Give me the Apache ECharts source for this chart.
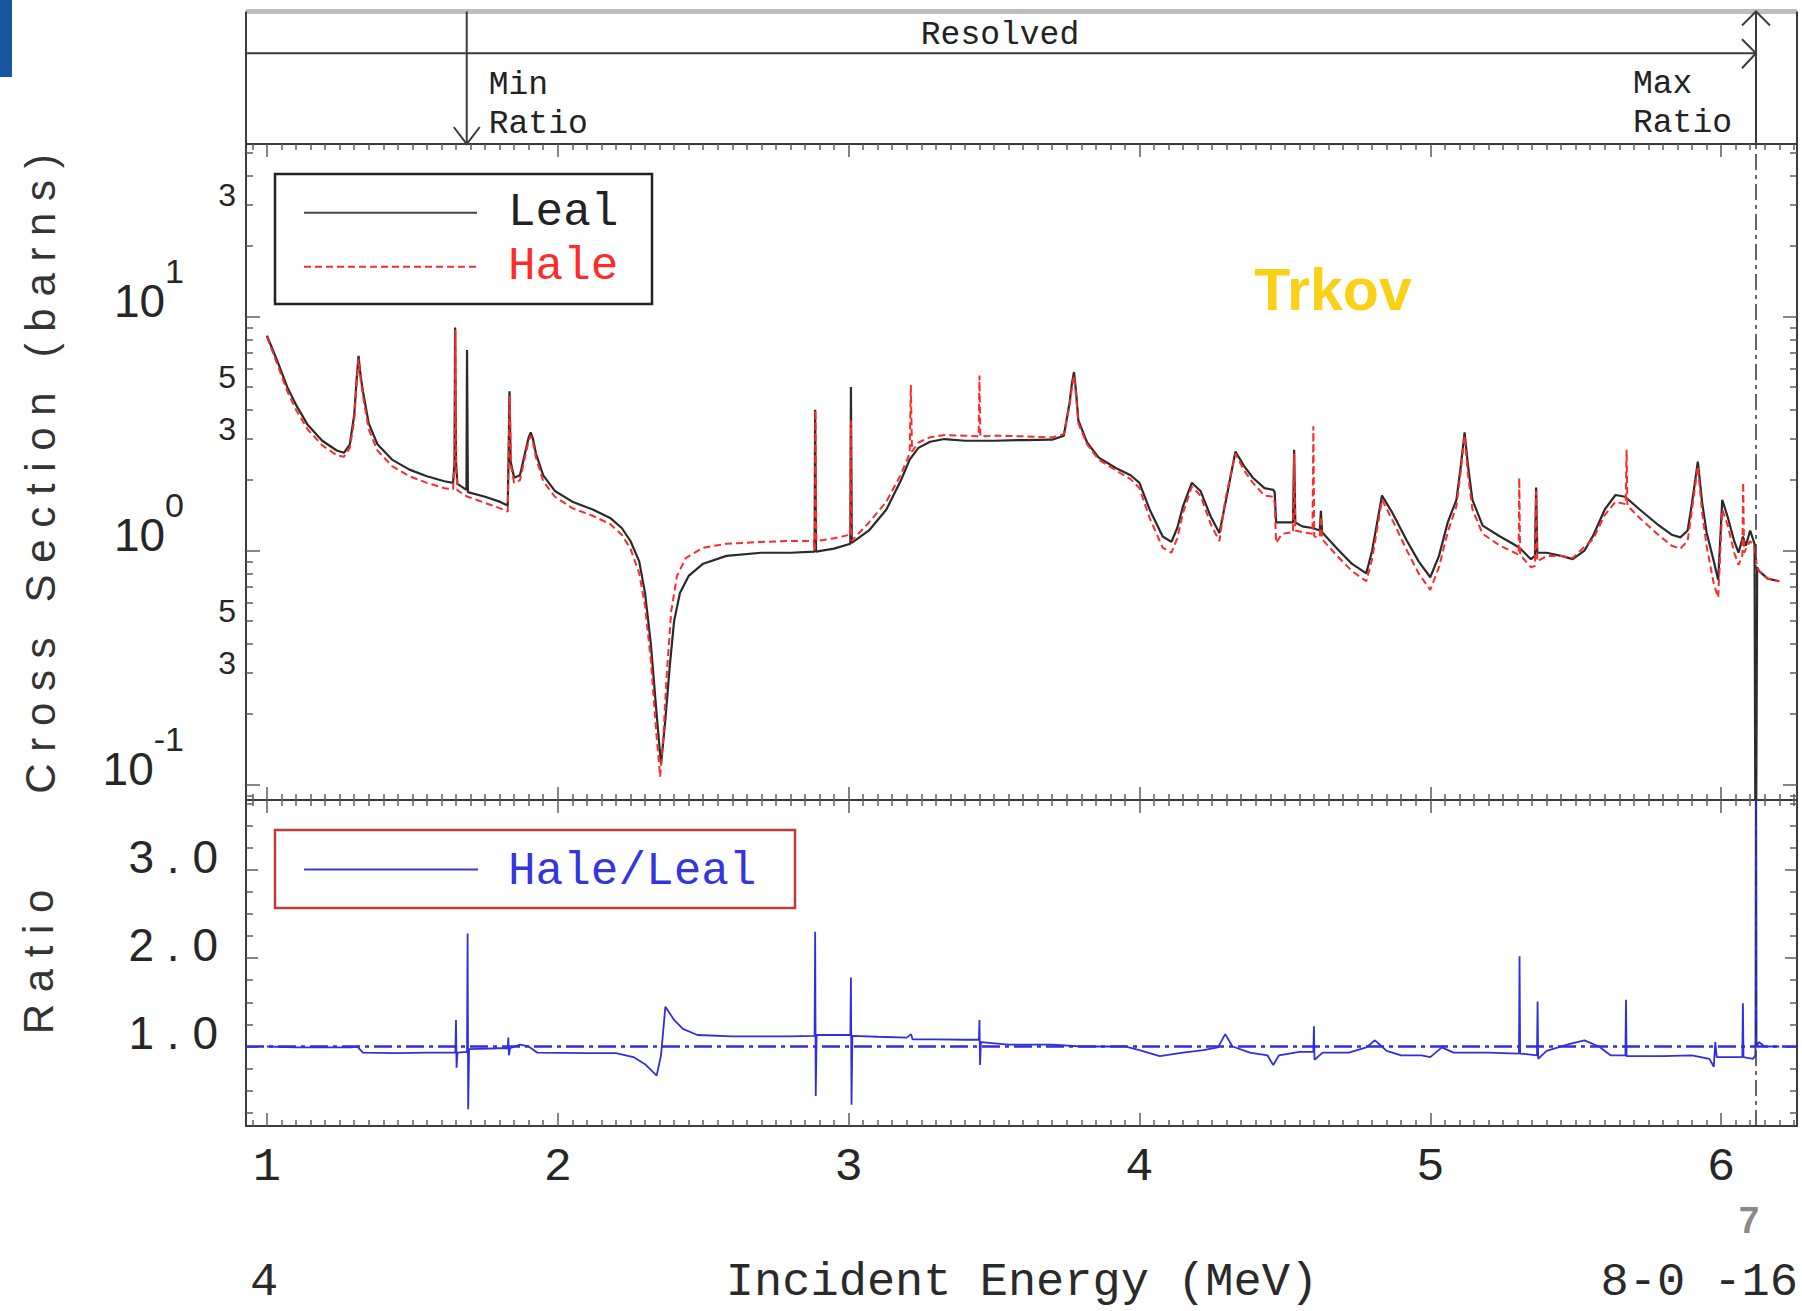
<!DOCTYPE html>
<html>
<head>
<meta charset="utf-8">
<script src="https://cdn.jsdelivr.net/npm/echarts@6/dist/echarts.min.js"></script>
<style>
html,body{margin:0;padding:0;background:#fff;}
#c{width:1802px;height:1311px;}
</style>
</head>
<body>
<div id="c"></div>
<script>
// ---------------- data ----------------
const X_TICK_LABELS = [1, 2, 3, 4, 5, 6];
const Y_TICK_LABELS = [0.1, 0.3, 0.5, 1, 3, 5, 10, 30];
const Y_MAJOR_TICKS = [0.1, 1, 10];
const RATIO_TICK_LABELS = [1, 2, 3];
const MIN_RATIO_E = 1.687;
const MAX_RATIO_E = 6.12;

const lealData = [
[1.000,8.3],[1.035,6.5],[1.07,5.0],[1.10,4.2],[1.14,3.45],[1.19,2.95],[1.24,2.68],[1.265,2.62],[1.285,2.85],[1.30,3.8],[1.308,5.3],[1.315,6.8],[1.322,5.6],[1.33,4.8],[1.35,3.5],[1.38,2.85],[1.43,2.45],[1.49,2.22],[1.55,2.08],[1.61,1.98],[1.640,1.95],[1.645,2.4],[1.647,9.0],[1.650,2.4],[1.655,1.93],[1.686,1.82],[1.688,7.2],[1.691,1.78],[1.75,1.7],[1.80,1.62],[1.828,1.56],[1.831,2.6],[1.834,4.8],[1.838,2.4],[1.85,2.05],[1.87,2.1],[1.89,2.7],[1.900,3.05],[1.907,3.2],[1.915,3.0],[1.925,2.6],[1.95,2.1],[1.99,1.8],[2.05,1.62],[2.12,1.5],[2.18,1.38],[2.22,1.25],[2.25,1.1],[2.28,0.9],[2.30,0.66],[2.32,0.4],[2.34,0.2],[2.355,0.122],[2.37,0.19],[2.385,0.32],[2.40,0.5],[2.42,0.66],[2.45,0.78],[2.50,0.88],[2.58,0.95],[2.70,0.98],[2.80,0.98],[2.883,0.99],[2.885,4.0],[2.888,0.99],[2.95,1.02],[3.006,1.07],[3.008,5.0],[3.011,1.08],[3.07,1.22],[3.13,1.5],[3.18,2.0],[3.21,2.45],[3.24,2.75],[3.28,2.92],[3.33,3.0],[3.40,2.95],[3.50,2.95],[3.60,2.97],[3.70,2.98],[3.74,3.1],[3.76,4.3],[3.768,5.2],[3.775,5.8],[3.782,4.8],[3.79,3.6],[3.82,2.9],[3.86,2.5],[3.92,2.25],[3.97,2.1],[4.00,1.95],[4.035,1.5],[4.08,1.15],[4.11,1.09],[4.13,1.25],[4.15,1.55],[4.18,1.95],[4.21,1.8],[4.245,1.4],[4.275,1.19],[4.30,1.7],[4.33,2.65],[4.36,2.3],[4.39,2.05],[4.43,1.85],[4.46,1.82],[4.465,1.78],[4.47,1.32],[4.50,1.32],[4.528,1.32],[4.532,2.7],[4.536,1.32],[4.56,1.27],[4.595,1.25],[4.62,1.22],[4.624,1.48],[4.628,1.2],[4.68,1.02],[4.73,0.88],[4.78,0.80],[4.80,1.0],[4.834,1.72],[4.87,1.45],[4.92,1.1],[4.96,0.9],[5.00,0.77],[5.03,0.95],[5.06,1.32],[5.09,1.65],[5.105,2.3],[5.118,3.2],[5.13,2.3],[5.145,1.65],[5.18,1.28],[5.24,1.15],[5.29,1.06],[5.31,1.02],[5.346,0.92],[5.360,0.95],[5.364,1.86],[5.368,0.98],[5.40,0.98],[5.45,0.95],[5.49,0.92],[5.53,1.0],[5.56,1.16],[5.60,1.5],[5.637,1.73],[5.67,1.70],[5.72,1.5],[5.78,1.3],[5.83,1.17],[5.86,1.14],[5.885,1.22],[5.90,1.6],[5.92,2.4],[5.935,1.6],[5.95,1.2],[5.975,0.9],[5.99,0.75],[6.004,1.65],[6.023,1.39],[6.045,1.1],[6.06,0.98],[6.075,1.15],[6.085,1.05],[6.10,1.22],[6.115,1.07],[6.119,0.02],[6.124,0.85],[6.13,0.82],[6.16,0.76],[6.20,0.74]
];

const haleData = [
[1.000,8.2],[1.035,6.3],[1.07,4.8],[1.10,4.0],[1.14,3.3],[1.19,2.82],[1.24,2.56],[1.265,2.52],[1.285,2.75],[1.30,3.6],[1.308,5.1],[1.315,6.6],[1.322,5.4],[1.33,4.6],[1.35,3.3],[1.38,2.68],[1.43,2.3],[1.49,2.08],[1.55,1.95],[1.61,1.85],[1.640,1.83],[1.645,2.3],[1.648,8.8],[1.651,2.3],[1.655,1.81],[1.686,1.71],[1.691,1.70],[1.75,1.6],[1.80,1.52],[1.828,1.47],[1.831,2.5],[1.835,4.6],[1.839,2.3],[1.85,1.95],[1.87,2.0],[1.89,2.6],[1.900,2.95],[1.907,3.1],[1.915,2.9],[1.925,2.5],[1.95,1.98],[1.99,1.7],[2.05,1.52],[2.12,1.41],[2.18,1.3],[2.22,1.17],[2.25,1.02],[2.28,0.8],[2.30,0.58],[2.32,0.34],[2.34,0.16],[2.352,0.108],[2.363,0.16],[2.375,0.3],[2.39,0.55],[2.41,0.78],[2.44,0.93],[2.50,1.03],[2.58,1.07],[2.70,1.09],[2.80,1.1],[2.880,1.1],[2.884,1.0],[2.886,4.0],[2.889,1.1],[2.95,1.13],[3.005,1.17],[3.008,3.6],[3.010,1.1],[3.07,1.32],[3.13,1.62],[3.18,2.12],[3.21,2.6],[3.214,5.1],[3.218,2.65],[3.24,2.9],[3.28,3.05],[3.33,3.12],[3.40,3.1],[3.447,3.08],[3.450,5.6],[3.453,3.08],[3.50,3.1],[3.60,3.08],[3.70,3.05],[3.74,3.15],[3.76,4.2],[3.768,5.0],[3.775,5.6],[3.782,4.6],[3.79,3.5],[3.82,2.85],[3.86,2.45],[3.92,2.2],[3.97,2.02],[4.00,1.85],[4.035,1.38],[4.08,1.03],[4.11,0.98],[4.13,1.13],[4.15,1.45],[4.18,1.88],[4.21,1.72],[4.245,1.3],[4.275,1.1],[4.295,1.65],[4.33,2.6],[4.36,2.2],[4.39,1.95],[4.43,1.72],[4.46,1.7],[4.465,1.6],[4.47,1.08],[4.49,1.18],[4.528,1.2],[4.532,2.6],[4.536,1.22],[4.56,1.2],[4.595,1.18],[4.598,3.4],[4.601,1.15],[4.62,1.14],[4.624,1.4],[4.628,1.12],[4.68,0.95],[4.73,0.82],[4.78,0.74],[4.80,0.92],[4.834,1.65],[4.87,1.35],[4.92,1.0],[4.96,0.8],[5.00,0.68],[5.03,0.85],[5.06,1.2],[5.09,1.55],[5.105,2.2],[5.118,3.1],[5.13,2.1],[5.145,1.5],[5.18,1.18],[5.24,1.05],[5.29,0.98],[5.304,0.96],[5.306,2.05],[5.309,0.96],[5.346,0.85],[5.360,0.86],[5.364,1.8],[5.368,0.9],[5.40,0.95],[5.45,0.95],[5.49,0.93],[5.53,1.04],[5.56,1.12],[5.60,1.42],[5.637,1.62],[5.672,1.58],[5.675,2.7],[5.678,1.56],[5.72,1.38],[5.78,1.18],[5.83,1.05],[5.86,1.02],[5.885,1.1],[5.90,1.5],[5.92,2.3],[5.935,1.45],[5.95,1.05],[5.975,0.72],[5.99,0.63],[6.004,1.5],[6.023,1.28],[6.045,0.98],[6.06,0.87],[6.073,0.95],[6.076,1.96],[6.079,0.98],[6.10,1.1],[6.115,1.03],[6.124,0.85],[6.13,0.82],[6.16,0.76],[6.20,0.74]
];

const ratioData = [
[1.00,1.0],[1.10,0.99],[1.20,0.99],[1.29,0.99],[1.31,1.0],[1.33,0.93],[1.45,0.925],[1.55,0.93],[1.648,0.93],[1.650,1.3],[1.652,0.76],[1.655,0.93],[1.688,0.94],[1.690,2.28],[1.692,0.29],[1.695,0.97],[1.80,0.98],[1.828,0.98],[1.830,1.1],[1.832,0.9],[1.836,0.98],[1.87,1.02],[1.90,1.0],[1.93,0.93],[2.10,0.925],[2.20,0.925],[2.26,0.88],[2.30,0.8],[2.34,0.67],[2.355,0.9],[2.37,1.45],[2.40,1.3],[2.43,1.2],[2.48,1.13],[2.60,1.115],[2.80,1.115],[2.883,1.12],[2.885,2.3],[2.887,0.44],[2.890,1.13],[3.00,1.13],[3.006,1.13],[3.008,1.78],[3.010,0.34],[3.013,1.12],[3.10,1.11],[3.20,1.1],[3.215,1.14],[3.22,1.08],[3.30,1.08],[3.40,1.076],[3.448,1.076],[3.450,1.3],[3.452,0.79],[3.455,1.05],[3.55,1.02],[3.70,1.02],[3.80,1.0],[3.95,1.0],[4.00,0.96],[4.07,0.89],[4.15,0.93],[4.22,0.96],[4.27,0.99],[4.295,1.14],[4.32,1.0],[4.38,0.93],[4.44,0.9],[4.46,0.79],[4.48,0.9],[4.55,0.94],[4.598,0.94],[4.600,1.23],[4.602,0.85],[4.63,0.93],[4.72,0.93],[4.78,0.99],[4.81,1.07],[4.85,0.95],[4.90,0.9],[4.97,0.9],[5.00,0.88],[5.04,0.99],[5.08,0.93],[5.20,0.93],[5.305,0.92],[5.307,2.02],[5.309,0.92],[5.367,0.9],[5.369,1.51],[5.371,0.86],[5.40,0.95],[5.48,1.03],[5.53,1.07],[5.58,1.0],[5.62,0.9],[5.671,0.9],[5.673,1.53],[5.675,0.89],[5.80,0.89],[5.90,0.9],[5.96,0.86],[5.975,0.77],[5.98,1.05],[5.985,0.88],[6.04,0.88],[6.073,0.88],[6.075,1.49],[6.077,0.88],[6.11,0.86],[6.118,0.9],[6.120,6.0],[6.122,1.0],[6.13,1.05],[6.15,1.0],[6.20,1.0]
];

// ---------------- layout ----------------
const X_MIN = 0.928, X_MAX = 6.261;
const Y_MIN = 0.086, Y_MAX = 54.7;
const R_MIN = 0.1, R_MAX = 3.79;
const G_LEFT = 246, G_RIGHT = 5, MAIN_TOP = 144, MAIN_H = 656, RATIO_H = 326;

// minor tick positions
const X_MINOR = [];
for (let i = 19; i <= 125; i++) { if (i % 20 !== 0) X_MINOR.push(+(i * 0.05).toFixed(2)); }
const Y_MINOR = [0.09];
[0.1, 1, 10].forEach(d => { for (let k = 2; k <= 9; k++) { const v = +(k * d).toPrecision(3); if (v <= Y_MAX) Y_MINOR.push(v); } });
const R_MINOR = [];
for (let i = 1; i <= 15; i++) { if (i % 4 !== 0) R_MINOR.push(i * 0.25); }

const AXC = '#3b3b3b', TKC = '#5c5c5c';
const MONO = '"Liberation Mono", "DejaVu Sans Mono", monospace';
const SANS = '"Liberation Sans", Arial, sans-serif';

function xAx(grid, pos, major, label) {
  return {
    gridIndex: grid, type: 'value', position: pos, min: X_MIN, max: X_MAX,
    axisLine: { show: major, onZero: false, lineStyle: { color: AXC, width: 2 } },
    axisTick: { show: true, inside: true, length: major ? 13 : 6,
      customValues: major ? X_TICK_LABELS : X_MINOR, lineStyle: { color: TKC, width: 1.5 } },
    axisLabel: label ? { show: true, customValues: X_TICK_LABELS, margin: 41, verticalAlign: 'middle',
      fontFamily: MONO, fontSize: 47, color: '#262626' } : { show: false },
    splitLine: { show: false }
  };
}
function yAx(grid, pos, major, isLog, label) {
  const base = {
    gridIndex: grid, position: pos,
    axisLine: { show: major, onZero: false, lineStyle: { color: AXC, width: 2 } },
    axisTick: { show: true, inside: true, length: major ? 14 : 7, lineStyle: { color: TKC, width: 1.5 } },
    splitLine: { show: false },
    axisLabel: { show: false }
  };
  if (isLog) {
    base.type = 'log'; base.logBase = 10; base.min = Y_MIN; base.max = Y_MAX;
    base.axisTick.customValues = major ? Y_MAJOR_TICKS : Y_MINOR;
    if (label) {
      base.axisLabel = {
        show: true, customValues: Y_TICK_LABELS, margin: 10, color: '#262626',
        formatter: function (v) {
          const lg = Math.log10(v), e = Math.round(lg);
          if (Math.abs(lg - e) < 1e-6) return '{b|10}{s|' + (e < 0 ? '-' : '') + Math.abs(e) + '}';
          const d = Math.round(v / Math.pow(10, Math.floor(lg + 1e-9)));
          return '{m|' + d + '}';
        },
        rich: {
          b: { fontFamily: SANS, fontSize: 46, color: '#262626', padding: [24, 0, 56, 0] },
          s: { fontFamily: SANS, fontSize: 34, color: '#262626', verticalAlign: 'top', padding: [0, 52, 0, 0] },
          m: { fontFamily: SANS, fontSize: 32, color: '#262626', padding: [0, 0, 20, 0] }
        }
      };
    }
  } else {
    base.type = 'value'; base.min = R_MIN; base.max = R_MAX;
    base.axisTick.customValues = major ? RATIO_TICK_LABELS : R_MINOR;
    base.axisTick.length = major ? 12 : 7;
    if (label) {
      base.axisLabel = {
        show: true, customValues: RATIO_TICK_LABELS, margin: 28, color: '#262626',
        formatter: v => '{r|' + v.toFixed(1).split('').join('\u00A0') + '}',
        rich: { r: { fontFamily: SANS, fontSize: 46, color: '#262626', padding: [0, 0, 26, 0] } }
      };
    }
  }
  return base;
}

const chart = echarts.init(document.getElementById('c'), null, { renderer: 'svg', width: 1802, height: 1311 });

const option = {
  animation: false,
  backgroundColor: '#ffffff',
  grid: [
    { left: G_LEFT, right: G_RIGHT, top: MAIN_TOP, height: MAIN_H, containLabel: false },
    { left: G_LEFT, right: G_RIGHT, top: MAIN_TOP + MAIN_H, height: RATIO_H, containLabel: false }
  ],
  xAxis: [
    xAx(0, 'bottom', true, false), xAx(0, 'bottom', false, false), xAx(0, 'top', true, false), xAx(0, 'top', false, false),
    xAx(1, 'bottom', true, true), xAx(1, 'bottom', false, false), xAx(1, 'top', true, false), xAx(1, 'top', false, false)
  ],
  yAxis: [
    yAx(0, 'left', true, true, true), yAx(0, 'left', false, true, false), yAx(0, 'right', true, true, false), yAx(0, 'right', false, true, false),
    yAx(1, 'left', true, false, true), yAx(1, 'left', false, false, false), yAx(1, 'right', true, false, false), yAx(1, 'right', false, false, false)
  ],
  series: [
    {
      name: 'Leal', type: 'line', xAxisIndex: 0, yAxisIndex: 0, data: lealData,
      symbol: 'none', showSymbol: false, clip: true, z: 3,
      lineStyle: { color: '#2a2a2a', width: 2.2 },
      markLine: {
        silent: true, symbol: ['none', 'none'], label: { show: false },
        lineStyle: { color: '#333333', width: 1.5, type: [16, 5, 4, 5] },
        data: [{ xAxis: MAX_RATIO_E }]
      }
    },
    {
      name: 'Hale', type: 'line', xAxisIndex: 0, yAxisIndex: 0, data: haleData,
      symbol: 'none', showSymbol: false, clip: true, z: 4,
      lineStyle: { color: '#ff2a2a', width: 2, type: [7, 4] }
    },
    {
      name: 'Hale/Leal', type: 'line', xAxisIndex: 4, yAxisIndex: 4, data: ratioData,
      symbol: 'none', showSymbol: false, clip: true, z: 4,
      lineStyle: { color: '#2f2fe0', width: 1.8 },
      markLine: {
        silent: true, symbol: ['none', 'none'], label: { show: false },
        data: [
          { xAxis: MAX_RATIO_E, lineStyle: { color: '#333333', width: 1.5, type: [16, 5, 4, 5] } },
          { yAxis: 1, lineStyle: { color: '#2f2fe0', width: 2.6, type: [18, 5, 4, 5] } }
        ]
      }
    }
  ]
};
chart.setOption(option);

// ---------------- decorations / annotations ----------------
const xMinR = chart.convertToPixel({ xAxisIndex: 0 }, MIN_RATIO_E);
const xMaxR = chart.convertToPixel({ xAxisIndex: 0 }, MAX_RATIO_E);
const xL = G_LEFT, xR = 1802 - G_RIGHT, yTop = 11.5, yRes = 53.3, yPlot = MAIN_TOP;

function ln(x1, y1, x2, y2, stroke, w) {
  return { type: 'line', silent: true, shape: { x1, y1, x2, y2 }, style: { stroke, lineWidth: w } };
}
function pl(points, stroke, w) {
  return { type: 'polyline', silent: true, shape: { points }, style: { stroke, lineWidth: w, fill: null } };
}
function tx(x, y, text, font, fill, align, rot) {
  return { type: 'text', silent: true, x, y, rotation: rot || 0,
    style: { text, font, fill, align: align || 'left', verticalAlign: 'middle', textAlign: align || 'left', textVerticalAlign: 'middle' } };
}
const NB = '\u00A0';
const spaced = s => s.split(' ').map(w => w.split('').join(NB)).join(NB + NB + NB);

chart.setOption({
  graphic: [
    { type: 'rect', silent: true, shape: { x: 0, y: 0, width: 12, height: 77 }, style: { fill: '#15569f' } },
    ln(xL, yTop, xR, yTop, '#bdbdbd', 5),
    ln(xL, yTop, xL, yPlot, AXC, 2),
    ln(xR, yTop, xR, yPlot, AXC, 2),
    ln(xL, yRes, xMaxR, yRes, AXC, 2),
    pl([[xMaxR - 14, yRes - 14], [xMaxR, yRes], [xMaxR - 14, yRes + 15]], AXC, 2),
    ln(xMaxR, yTop, xMaxR, yPlot, AXC, 2),
    pl([[xMaxR - 14, yTop + 14], [xMaxR, yTop], [xMaxR + 14, yTop + 14]], AXC, 2),
    ln(xMinR, yTop, xMinR, yPlot, AXC, 2),
    pl([[xMinR - 13, yPlot - 17], [xMinR, yPlot], [xMinR + 13, yPlot - 17]], AXC, 2),
    tx(1000, 35, 'Resolved', '33px ' + MONO, '#222', 'center'),
    tx(xMinR + 22, 85, 'Min', '33px ' + MONO, '#222', 'left'),
    tx(xMinR + 22, 124, 'Ratio', '33px ' + MONO, '#222', 'left'),
    tx(1633, 84, 'Max', '33px ' + MONO, '#222', 'left'),
    tx(1633, 123, 'Ratio', '33px ' + MONO, '#222', 'left'),

    // legend of the cross-section panel
    { type: 'rect', silent: true, shape: { x: 275, y: 174, width: 377, height: 130 }, style: { fill: '#fff', stroke: '#222', lineWidth: 2.5 }, z: 10 },
    { type: 'line', silent: true, shape: { x1: 304, y1: 212.7, x2: 477, y2: 212.7 }, style: { stroke: '#444', lineWidth: 2 }, z: 11 },
    { type: 'line', silent: true, shape: { x1: 304, y1: 266.7, x2: 477, y2: 266.7 }, style: { stroke: '#ff2a2a', lineWidth: 2, lineDash: [7, 4] }, z: 11 },
    Object.assign(tx(508, 213, 'Leal', '46px ' + MONO, '#222', 'left'), { z: 11 }),
    Object.assign(tx(508, 267, 'Hale', '46px ' + MONO, '#ff2a2a', 'left'), { z: 11 }),

    // legend of the ratio panel
    { type: 'rect', silent: true, shape: { x: 275, y: 830, width: 520, height: 78 }, style: { fill: '#fff', stroke: '#c23a3a', lineWidth: 2.5 }, z: 10 },
    { type: 'line', silent: true, shape: { x1: 304, y1: 869.5, x2: 478, y2: 869.5 }, style: { stroke: '#3a3ae0', lineWidth: 2 }, z: 11 },
    Object.assign(tx(508, 872, 'Hale/Leal', '46px ' + MONO, '#3535e0', 'left'), { z: 11 }),

    tx(1333, 290, 'Trkov', 'bold 59px ' + SANS, '#fbd118', 'center'),

    tx(40, 474, spaced('Cross Section (barns)'), '42px ' + SANS, '#333', 'center', Math.PI / 2),
    tx(38, 962, spaced('Ratio'), '42px ' + SANS, '#333', 'center', Math.PI / 2),

    tx(250, 1282, '4', '47px ' + MONO, '#2a2a2a', 'left'),
    tx(1022, 1282, 'Incident Energy (MeV)', '47px ' + MONO, '#2a2a2a', 'center'),
    tx(1798, 1282, '8-0 -16', '47px ' + MONO, '#2a2a2a', 'right'),
    tx(1749, 1220, '7', 'bold 37px ' + SANS, '#8a8a8a', 'center')
  ]
});
</script>
</body>
</html>
